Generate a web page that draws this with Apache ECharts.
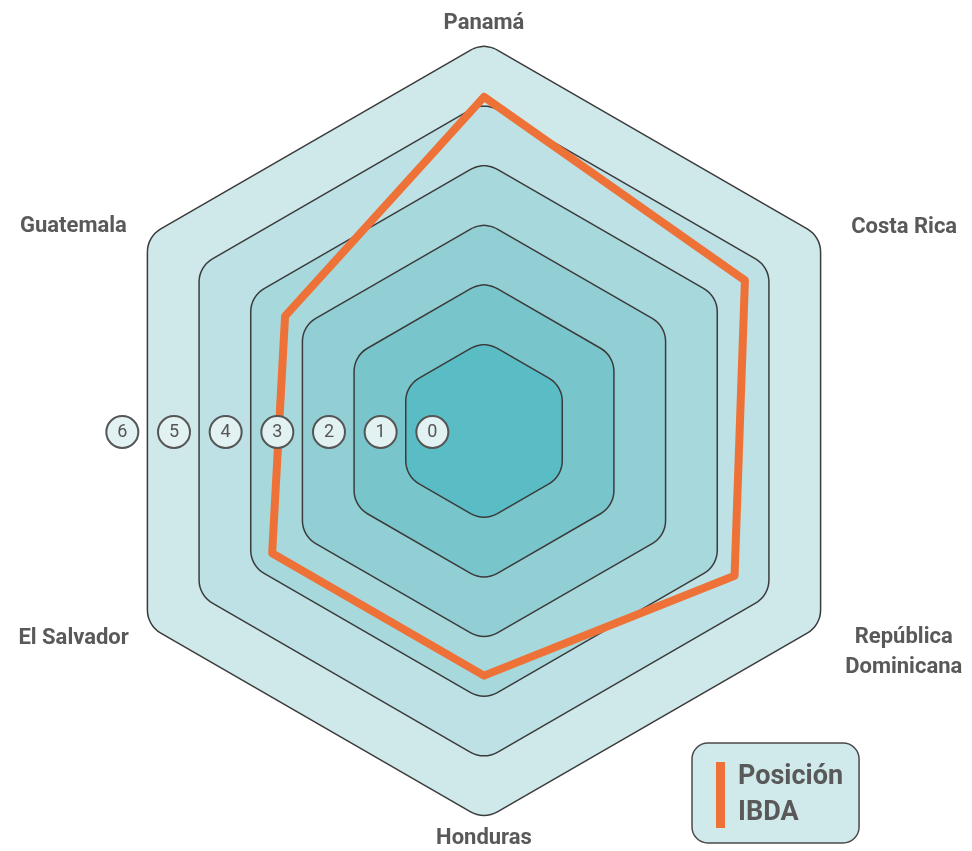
<!DOCTYPE html>
<html>
<head>
<meta charset="utf-8">
<script src="https://cdn.jsdelivr.net/npm/echarts@6/dist/echarts.min.js"></script>
<style>
  html, body { margin: 0; padding: 0; background: #fff; }
  #chart { width: 972px; height: 851px; }
</style>
</head>
<body>
<div id="chart"></div>
<script>
// datos
var paises = ['Panamá', 'Guatemala', 'El Salvador', 'Honduras', 'República Dominicana', 'Costa Rica'];
var posicionIBDA = [4.6, 2.85, 3.1, 3.1, 3.85, 4.05];
var escala = [0, 1, 2, 3, 4, 5, 6];
var niveles = [5.5, 4.5, 3.5, 2.5, 1.5, 0.5];
var coloresNivel = ['#cfe8ea', '#bde1e4', '#a7d8dc', '#92cfd4', '#78c5cb', '#5abcc4'];

var chart = echarts.init(document.getElementById('chart'));

var fuente = "Roboto, 'Liberation Sans', sans-serif";
var naranja = '#ee7238';
var gris = '#595959';

var cx = 484, cy = 431;
var ejeMin = -1, ejeMax = 5.5;
var radio = 387.8;
var pxPorUnidad = radio / (ejeMax - ejeMin);
var esquina = 26; // radio de las esquinas redondeadas (px)
var borde = 1.5;

// anillos: poligono reducido + trazo grueso con union redonda => hexagono redondeado
var anillos = [];
niveles.forEach(function (nivel, i) {
    var v = nivel - esquina / Math.cos(Math.PI / 6) / pxPorUnidad;
    var vals = paises.map(function () { return v; });
    anillos.push({
        value: vals,
        lineStyle: { color: '#3b3b3b', width: esquina * 2 + borde * 2, join: 'round', cap: 'round' }
    });
    anillos.push({
        value: vals,
        lineStyle: { color: coloresNivel[i], width: esquina * 2, join: 'round', cap: 'round' },
        areaStyle: { color: coloresNivel[i], opacity: 1 }
    });
});

var claves = {
    'Panamá': 'pan', 'Guatemala': 'gua', 'El Salvador': 'els',
    'Honduras': 'hon', 'Costa Rica': 'cri'
};
var base = { fontFamily: fuente, fontWeight: 'bold', fontSize: 22, color: gris, lineHeight: 30 };
function estilo(pad) { return Object.assign({ padding: pad, align: 'center' }, base); }

option = {
    animation: false,
    backgroundColor: '#fff',
    legend: {
        data: ['Posición IBDA'],
        left: 692,
        top: 743,
        padding: [16, 16, 12, 24],
        icon: 'rect',
        itemWidth: 9,
        itemHeight: 66,
        backgroundColor: '#d0e9eb',
        borderColor: '#4a4a4a',
        borderWidth: 1.5,
        borderRadius: 16,
        formatter: function (n) { return n.replace(' ', '\n'); },
        textStyle: {
            fontFamily: fuente, fontWeight: 'bold', fontSize: 27,
            lineHeight: 36, color: gris, padding: [0, 0, 0, 8]
        }
    },
    radar: {
        center: [cx, cy],
        radius: radio,
        startAngle: 90,
        indicator: paises.map(function (p) { return { name: p, min: ejeMin, max: ejeMax }; }),
        axisNameGap: 5,
        axisName: {
            formatter: function (name) {
                if (name === 'República Dominicana') {
                    return '{sp| }\n{rd|República}\n{rd|Dominicana}';
                }
                return '{' + claves[name] + '|' + name + '}';
            },
            rich: {
                pan: estilo([0, 0, 0, 0]),
                hon: estilo([0, 0, 0, 0]),
                gua: estilo([0, 17, 17, 0]),
                els: estilo([23, 15, 0, 0]),
                cri: estilo([0, 0, 15, 27]),
                sp: { fontSize: 10, lineHeight: 51 },
                rd: estilo([0, 0, 0, 21])
            }
        },
        axisLine: { show: false },
        splitLine: { show: false },
        splitArea: { show: false },
        axisTick: { show: false },
        axisLabel: { show: false }
    },
    grid: {
        left: cx - (escala.length) * pxPorUnidad * Math.cos(Math.PI / 6),
        width: (escala.length) * pxPorUnidad * Math.cos(Math.PI / 6),
        top: 382,
        height: 100
    },
    xAxis: { type: 'value', min: -1, max: 6, inverse: true, show: false },
    yAxis: { type: 'value', min: -1, max: 1, show: false },
    series: [
        {
            type: 'radar',
            silent: true,
            symbol: 'none',
            z: 1,
            data: anillos
        },
        {
            name: 'Posición IBDA',
            type: 'radar',
            symbol: 'none',
            z: 3,
            itemStyle: { color: naranja },
            lineStyle: { color: naranja, width: 8, join: 'round', cap: 'round' },
            data: [{ value: posicionIBDA, name: 'Posición IBDA' }]
        },
        {
            type: 'scatter',
            z: 10,
            silent: true,
            symbol: 'circle',
            symbolSize: 32,
            itemStyle: { color: '#e2f1f2', borderColor: '#555', borderWidth: 2, opacity: 1 },
            label: {
                show: true,
                position: 'inside',
                formatter: function (p) { return p.value[0]; },
                fontFamily: fuente,
                fontSize: 18,
                color: '#555'
            },
            data: escala.map(function (v) { return [v, 0]; })
        }
    ]
};

chart.setOption(option);
</script>
</body>
</html>
